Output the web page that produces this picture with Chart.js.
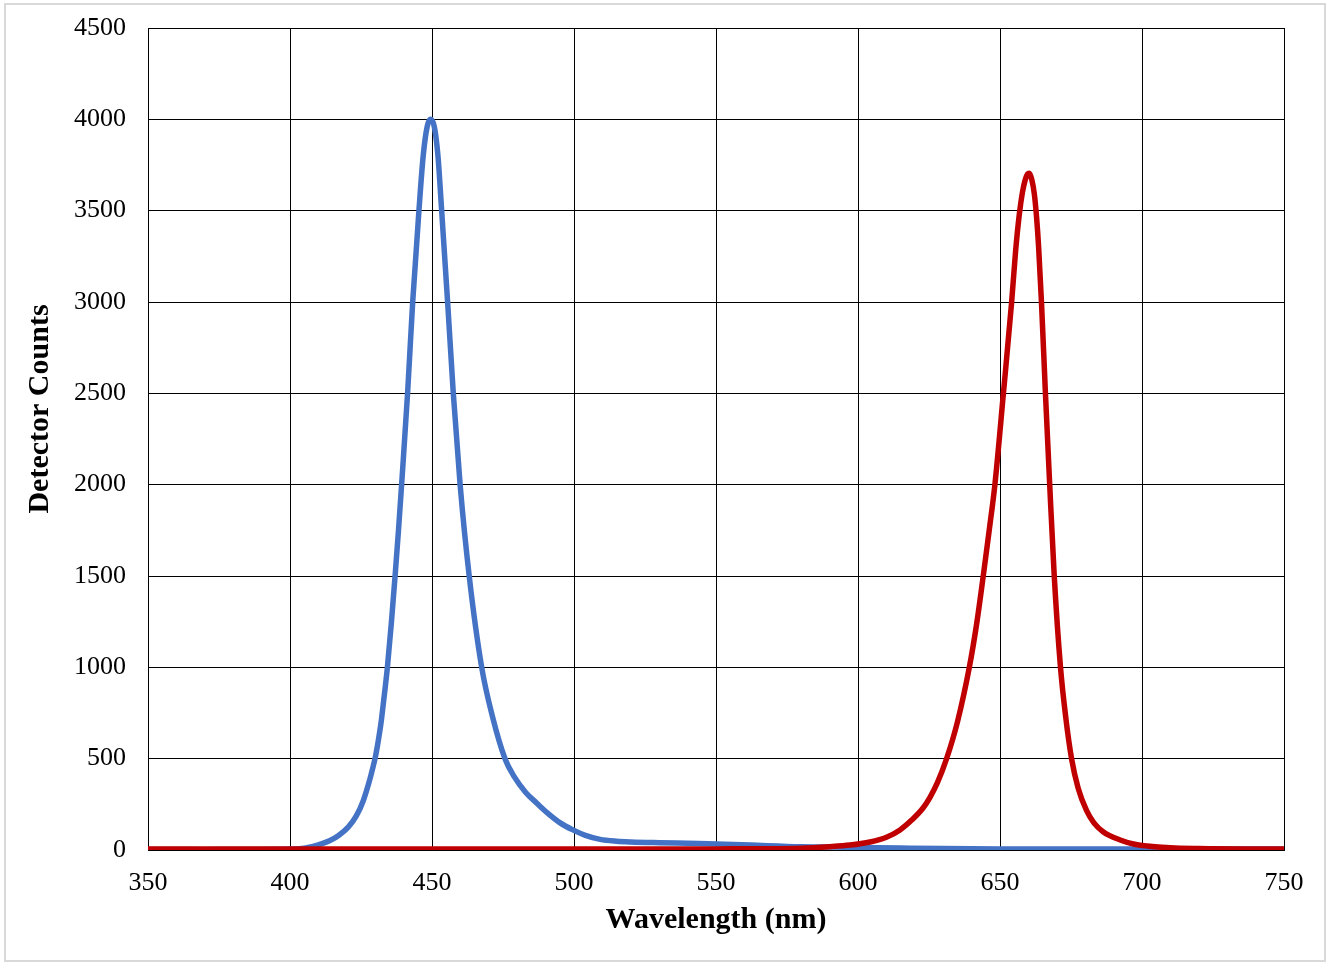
<!DOCTYPE html>
<html>
<head>
    <title>Detector Counts vs Wavelength</title>
    <script src="https://cdn.jsdelivr.net/npm/chart.js"></script>
    <style>
        body {
            margin: 0;
            background: white;
        }
        .wrap {
            width: 1331px;
            height: 964px;
            position: relative;
        }
    </style>
</head>
<body>
    <div class="wrap">
        <canvas id="spectrum" width="1331" height="964"></canvas>
    </div>

    <script>
        // blue LED spectrum (nm, counts)
        const blueX = [350, 360, 370, 380, 390, 400, 405, 408.1, 411, 414.1, 417, 420.5, 423.3, 425.8, 428, 429, 430, 431, 432, 433, 434.3, 435.7, 437.0, 438.2, 439.3, 441.4, 443.2, 445.4, 446.9, 448.3, 449.5, 450.8, 452.1, 453.4, 455.5, 457.5, 459.9, 463.1, 467.5, 471.3, 475.7, 479, 483, 487, 490.5, 495, 499.6, 504, 509.2, 515, 520, 530, 544, 562, 580, 597, 615, 630, 650, 700, 750];
        const blueY = [3, 3, 2, 3, 3, 5, 10, 20, 33, 52, 78, 125, 185, 270, 380, 440, 505, 590, 690, 820, 1000, 1245, 1500, 1750, 2000, 2500, 3000, 3500, 3800, 3960, 4000, 3960, 3800, 3500, 3000, 2500, 2000, 1500, 1000, 730, 500, 400, 315, 255, 205, 150, 110, 80, 58, 48, 44, 40, 36, 27, 18, 15, 11, 8, 6, 5, 5];

        // red LED spectrum (nm, counts)
        const redX = [350, 400, 450, 500, 550, 580, 590, 597.2, 604.2, 610, 614.8, 619, 622.9, 625.4, 628, 631.2, 635, 639.2, 641.8, 644.1, 646.2, 648.2, 651.2, 654.1, 655.5, 656.8, 657.9, 658.9, 659.7, 660.3, 661.2, 662.1, 662.9, 663.6, 664.6, 666.0, 667.5, 669.1, 671.3, 673.2, 675.2, 677.5, 680.5, 683, 686.3, 692.3, 697, 701.8, 710, 720, 750];
        const redY = [5, 5, 5, 5, 6, 10, 18, 27, 44, 70, 110, 165, 230, 290, 370, 500, 700, 1000, 1240, 1500, 1750, 2000, 2500, 3000, 3280, 3480, 3600, 3670, 3700, 3705, 3670, 3590, 3460, 3300, 3000, 2500, 2000, 1500, 1000, 720, 500, 340, 215, 150, 100, 55, 33, 22, 12, 8, 5];

        const yTicks = [0, 500, 1000, 1500, 2000, 2500, 3000, 3500, 4000, 4500];

        const toPoints = (xs, ys) => xs.map((x, i) => ({ x: x, y: ys[i] }));

        const serif = '"Liberation Serif", "Times New Roman", serif';

        // grey frame round the whole picture + rotated y title
        const framePlugin = {
            id: 'frame',
            beforeDraw(chart) {
                const ctx = chart.ctx;
                ctx.save();
                ctx.fillStyle = '#fff';
                ctx.fillRect(0, 0, chart.width, chart.height);
                ctx.strokeStyle = '#d9d9d9';
                ctx.lineWidth = 2;
                ctx.strokeRect(5, 4, 1320, 957);
                ctx.restore();
            },
            afterDraw(chart) {
                const ctx = chart.ctx;
                ctx.save();
                ctx.translate(40, 409);
                ctx.rotate(-Math.PI / 2);
                ctx.font = 'bold 30px ' + serif;
                ctx.fillStyle = '#000';
                ctx.textAlign = 'center';
                ctx.textBaseline = 'middle';
                ctx.fillText('Detector Counts', 0, 0);
                ctx.restore();
            }
        };

        new Chart(document.getElementById('spectrum'), {
            type: 'line',
            data: {
                datasets: [
                    {
                        data: toPoints(redX, redY),
                        borderColor: '#C00000',
                        borderWidth: 5.5,
                        pointRadius: 0,
                        cubicInterpolationMode: 'monotone'
                    },
                    {
                        data: toPoints(blueX, blueY),
                        borderColor: '#4472C4',
                        borderWidth: 5.5,
                        pointRadius: 0,
                        cubicInterpolationMode: 'monotone'
                    }
                ]
            },
            options: {
                responsive: false,
                animation: false,
                layout: {
                    padding: { left: 0, top: 28, right: 47, bottom: 0 }
                },
                plugins: {
                    legend: { display: false },
                    tooltip: { enabled: false }
                },
                scales: {
                    x: {
                        type: 'linear',
                        min: 350,
                        max: 750,
                        afterFit: (s) => { s.height = 114; },
                        ticks: {
                            stepSize: 50,
                            padding: 18,
                            color: '#000',
                            font: { family: serif, size: 26 },
                            callback: (v) => String(v)
                        },
                        grid: { color: '#000', lineWidth: 1, drawTicks: false },
                        border: { color: '#000', width: 1 },
                        title: {
                            display: true,
                            text: 'Wavelength (nm)',
                            color: '#000',
                            font: { family: serif, size: 30, weight: 'bold' },
                            padding: { top: 0, bottom: 26 }
                        }
                    },
                    y: {
                        min: 0,
                        max: 4500,
                        afterFit: (s) => {
                            s.width = 148;
                            s.paddingTop = 0;
                            s.paddingBottom = 0;
                        },
                        afterBuildTicks: (s) => { s.ticks = yTicks.map(v => ({ value: v })); },
                        ticks: {
                            padding: 22,
                            color: '#000',
                            font: { family: serif, size: 26 },
                            callback: (v) => String(v)
                        },
                        grid: { color: '#000', lineWidth: 1, drawTicks: false },
                        border: { color: '#000', width: 1 }
                    }
                }
            },
            plugins: [framePlugin]
        });
    </script>
</body>
</html>
